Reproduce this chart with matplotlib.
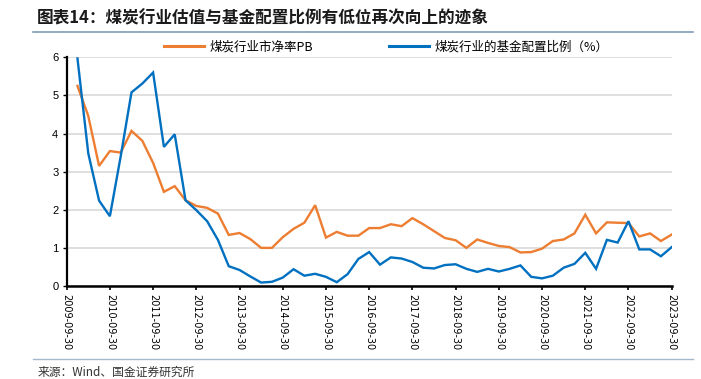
import matplotlib
matplotlib.use("Agg")
import matplotlib.pyplot as plt
import pandas as pd
from matplotlib.lines import Line2D

plt.rcParams['font.family'] = ['Noto Sans CJK SC', 'DejaVu Sans']

# quarterly dates, axis starts one quarter before the first data point
dates = pd.date_range('2009-09-30', '2023-09-30', freq='QE')
tick_labels = [d.strftime('%Y-%m-%d') for d in dates[::4]]

# 煤炭行业市净率PB (2009-12-31 .. 2023-09-30)
pb = [5.25, 4.46, 3.15, 3.54, 3.50, 4.07, 3.81, 3.23, 2.47, 2.62,
      2.25, 2.10, 2.05, 1.90, 1.34, 1.39, 1.23, 1.00, 1.00, 1.28,
      1.50, 1.66, 2.12, 1.27, 1.42, 1.32, 1.32, 1.52, 1.52, 1.62,
      1.57, 1.78, 1.62, 1.44, 1.26, 1.20, 1.00, 1.22, 1.13, 1.05,
      1.02, 0.88, 0.89, 0.98, 1.18, 1.22, 1.38, 1.87, 1.38, 1.67,
      1.66, 1.65, 1.30, 1.38, 1.18, 1.35]

# 煤炭行业的基金配置比例（%）
fund = [5.97, 3.48, 2.24, 1.83, 3.40, 5.08, 5.31, 5.60, 3.65, 3.98,
        2.25, 1.99, 1.70, 1.21, 0.52, 0.42, 0.25, 0.09, 0.11, 0.22,
        0.44, 0.27, 0.32, 0.24, 0.10, 0.31, 0.71, 0.89, 0.56, 0.75,
        0.72, 0.63, 0.48, 0.46, 0.55, 0.57, 0.45, 0.37, 0.45, 0.38,
        0.45, 0.54, 0.24, 0.20, 0.27, 0.48, 0.58, 0.87, 0.45, 1.21,
        1.14, 1.70, 0.96, 0.96, 0.78, 1.02]

x = list(range(1, len(dates)))

fig = plt.figure(figsize=(7.01, 3.79), dpi=100)
ax = fig.add_axes([0.0951, 0.2454, 0.8631, 0.6034])

ax.plot(x, pb, color='#ED7D31', lw=1.7, solid_joinstyle='miter')
ax.plot(x, fund, color='#0070C0', lw=1.7, solid_joinstyle='miter')

ax.set_xlim(0, len(dates) - 1)
ax.set_ylim(0, 6)
ax.set_yticks(range(0, 7))
ax.set_xticks(range(0, len(dates), 4))
ax.set_xticklabels(tick_labels, rotation=-90, fontsize=7, family='DejaVu Sans')
ax.tick_params(axis='y', labelsize=8, length=3, width=1, pad=3)
ax.tick_params(axis='x', length=3, width=1.2, pad=3)
for lab in ax.get_yticklabels():
    lab.set_family('Liberation Sans')

ax.grid(axis='y', color='#D9D9D9', lw=1.2)
ax.set_axisbelow(True)
for s in ['top', 'right']:
    ax.spines[s].set_visible(False)
ax.spines['left'].set_linewidth(1.6)
ax.spines['bottom'].set_linewidth(1.8)

handles = [Line2D([], [], color='#ED7D31', lw=2.2),
           Line2D([], [], color='#0070C0', lw=2.2)]
fig.legend(handles, ['煤炭行业市净率PB', '煤炭行业的基金配置比例（%）'],
           loc='center', bbox_to_anchor=(0.551, 0.876), ncol=2, frameon=False,
           fontsize=9, handlelength=3.2, handletextpad=0.4, columnspacing=6.1)

# title and source with rules
fig.text(0.053, 0.952, '图表14：煤炭行业估值与基金配置比例有低位再次向上的迹象',
         fontsize=12, fontweight='bold', va='center', color='#1a1a1a')
fig.add_artist(Line2D([0.047, 0.988], [0.915, 0.915], color='#7F9DB9', lw=1.2,
                      transform=fig.transFigure))
fig.add_artist(Line2D([0.047, 0.988], [0.053, 0.053], color='#A6B9CC', lw=1,
                      transform=fig.transFigure))
fig.text(0.053, 0.018, '来源：Wind、国金证券研究所', fontsize=8.5, va='center', color='#333333')

fig.savefig('out.png', dpi=100)
